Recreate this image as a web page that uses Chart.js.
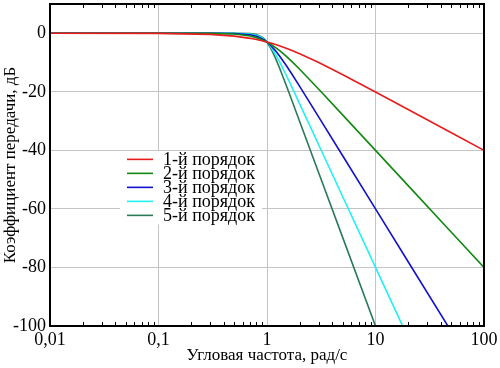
<!DOCTYPE html>
<html>
<head>
<meta charset="utf-8">
<script src="https://cdn.jsdelivr.net/npm/chart.js@4/dist/chart.umd.min.js"></script>
<style>
html,body{margin:0;padding:0;background:#fff;}
#wrap{width:500px;height:368px;position:relative;}
</style>
</head>
<body>
<div id="wrap"><canvas id="c" width="500" height="368"></canvas></div>
<script>
// Angular frequency, rad/s
const freq = [0.01, 0.1, 0.3, 0.5, 0.7, 0.8, 0.9, 0.95, 1, 1.1, 1.2, 1.3, 1.5, 1.7, 2, 3, 5, 10, 20, 50, 100];
// Gain, dB, per filter order
const order1 = [0, -0.04, -0.37, -0.97, -1.73, -2.15, -2.58, -2.79, -3.01, -3.44, -3.87, -4.30, -5.12, -5.90, -6.99, -10.0, -14.15, -20.04, -26.03, -33.98, -40.0];
const order2 = [0, 0, -0.04, -0.26, -0.93, -1.49, -2.19, -2.59, -3.01, -3.92, -4.88, -5.86, -7.83, -9.71, -12.30, -19.14, -27.97, -40.0, -52.04, -67.96, -80.0];
const order3 = [0, 0, 0, -0.07, -0.48, -1.01, -1.85, -2.39, -3.01, -4.43, -6.01, -7.65, -10.93, -14.00, -18.13, -28.63, -41.94, -60.0, -78.06, -101.9, -120.0];
const order4 = [0, 0, 0, -0.02, -0.24, -0.67, -1.55, -2.21, -3.01, -4.97, -7.24, -9.62, -14.25, -18.50, -24.10, -38.17, -55.92, -80.0, -104.08, -135.9, -160.0];
const order5 = [0, 0, 0, 0, -0.12, -0.44, -1.30, -2.04, -3.01, -5.56, -8.57, -11.70, -17.68, -23.07, -30.11, -47.71, -69.90, -100.0, -130.1, -169.9, -200.0];
const seriesLabels = ['1-й порядок', '2-й порядок', '3-й порядок', '4-й порядок', '5-й порядок'];
const xTicks = [0.01, 0.1, 1, 10, 100];
const yTicks = [-100, -80, -60, -40, -20, 0];
const xTitle = 'Угловая частота, рад/с';
const yTitle = 'Коэффициент передачи, дБ';

const colors = ['#e81c1c', '#118811', '#1212cc', '#22f0f0', '#2a7a58'];
const allSeries = [order1, order2, order3, order4, order5];
const FONT = "'Liberation Serif', 'Times New Roman', serif";

const datasets = allSeries.map((s, i) => ({
  label: seriesLabels[i],
  data: freq.map((f, k) => ({x: f, y: s[k]})),
  borderColor: colors[i],
  backgroundColor: colors[i],
  borderWidth: 1.6,
  pointRadius: 0,
  tension: 0,
  fill: false
}));

const framePlugin = {
  id: 'frame',
  afterDraw(chart) {
    const ctx = chart.ctx, a = chart.chartArea;
    const xs = chart.scales.x;
    ctx.save();
    ctx.strokeStyle = '#000';
    ctx.lineWidth = 1;
    for (let d = -2; d < 2; d++) {
      for (let m = 2; m <= 9; m++) {
        const v = m * Math.pow(10, d);
        const px = Math.round(xs.getPixelForValue(v)) + 0.5;
        ctx.beginPath();
        ctx.moveTo(px, a.bottom); ctx.lineTo(px, a.bottom - 4);
        ctx.moveTo(px, a.top); ctx.lineTo(px, a.top + 4);
        ctx.stroke();
      }
    }
    ctx.lineWidth = 2;
    ctx.strokeStyle = '#000';
    ctx.strokeRect(a.left, a.top, a.right - a.left, a.bottom - a.top);
    // legend
    const lx = 120, ly = chart.scales.y.getPixelForValue(-40) + 1;
    const w = 142, h = 73;
    ctx.fillStyle = '#fff';
    ctx.fillRect(lx, ly, w, h);
    ctx.font = '18px ' + FONT;
    ctx.textBaseline = 'middle';
    ctx.textAlign = 'left';
    chart.data.datasets.forEach((ds, i) => {
      const y = ly + 8 + i * 14;
      ctx.strokeStyle = ds.borderColor;
      ctx.lineWidth = 1.6;
      ctx.beginPath();
      ctx.moveTo(lx + 7, y); ctx.lineTo(lx + 33, y);
      ctx.stroke();
      ctx.fillStyle = '#000';
      ctx.fillText(ds.label, lx + 43, y + 1);
    });
    ctx.restore();
  }
};

new Chart(document.getElementById('c'), {
  type: 'line',
  data: { datasets },
  options: {
    responsive: false,
    animation: false,
    layout: { padding: { top: 4, right: 16, left: 0, bottom: 0 } },
    plugins: { legend: { display: false }, tooltip: { enabled: false } },
    scales: {
      x: {
        type: 'logarithmic',
        min: 0.01, max: 100,
        afterBuildTicks: s => { s.ticks = xTicks.map(v => ({value: v})); },
        afterFit: s => { s.height = 42; s.paddingLeft = 0; s.paddingRight = 0; },
        grid: { color: '#c4c4c4', lineWidth: 1, drawTicks: false },
        border: { display: false },
        ticks: {
          color: '#000', padding: 3, maxRotation: 0, autoSkip: false,
          font: { family: FONT, size: 18 },
          callback: v => String(v).replace('.', ',')
        },
        title: { display: true, text: xTitle, color: '#000', font: { family: FONT, size: 17 }, padding: { top: 0, bottom: 2 } }
      },
      y: {
        min: -100, max: 10,
        afterBuildTicks: s => { s.ticks = yTicks.map(v => ({value: v})); },
        afterFit: s => { s.width = 50; s.paddingTop = 0; s.paddingBottom = 0; },
        grid: { color: '#c4c4c4', lineWidth: 1, drawTicks: false },
        border: { display: false },
        ticks: { color: '#000', padding: 4, font: { family: FONT, size: 18 } },
        title: { display: true, text: yTitle, color: '#000', font: { family: FONT, size: 17 }, padding: { top: 0, bottom: 0 } }
      }
    }
  },
  plugins: [framePlugin]
});
</script>
</body>
</html>
